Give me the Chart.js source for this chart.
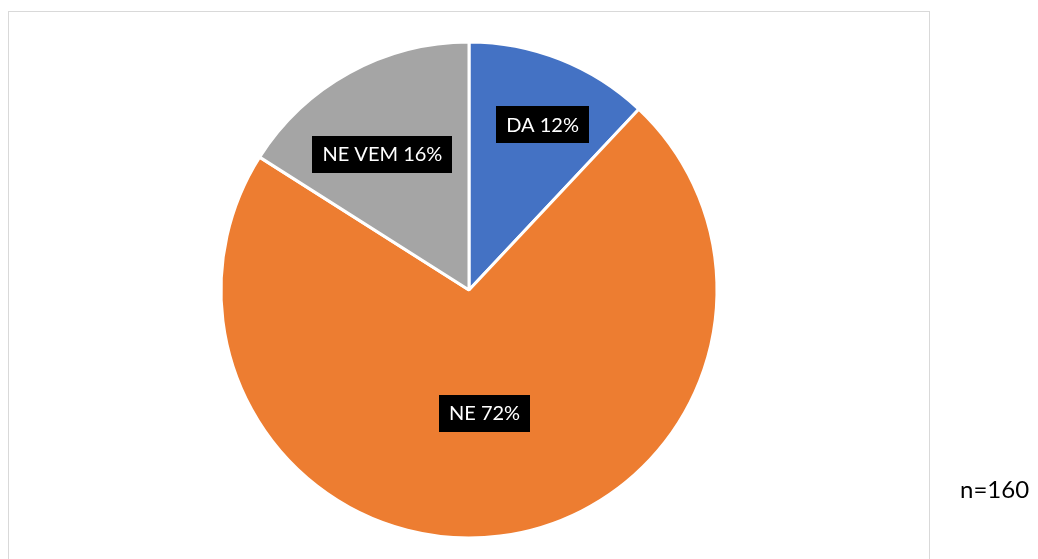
<!DOCTYPE html>
<html>
<head>
<meta charset="utf-8">
<script src="https://cdn.jsdelivr.net/npm/chart.js@4"></script>
<style>
  html, body { margin: 0; padding: 0; background: #ffffff; }
  #wrap { width: 1038px; height: 559px; position: relative; }
</style>
</head>
<body>
<div id="wrap"><canvas id="c" width="1038" height="559"></canvas></div>
<script>
const categories = ["DA", "NE", "NE VEM"];
const percentValues = [12, 72, 16];
const sliceColors = ["#4472C4", "#ED7D31", "#A5A5A5"];
const sampleNote = "n=160";

// label placement: fraction of radius and angle tweak (degrees) per slice
const labelPlacement = [
  { r: 0.73, da: 2.4 },
  { r: 0.50, da: 0 },
  { r: 0.65, da: -3.7 }
];

const FONT = "Lato, 'Open Sans', sans-serif";

const framePlugin = {
  id: 'frame',
  beforeDraw(chart) {
    const ctx = chart.ctx;
    ctx.save();
    ctx.strokeStyle = '#d9d9d9';
    ctx.lineWidth = 1;
    ctx.strokeRect(8.5, 11.5, 921, 600);
    ctx.fillStyle = '#000000';
    ctx.font = '24px ' + FONT;
    ctx.textBaseline = 'alphabetic';
    ctx.textAlign = 'left';
    ctx.fillText(sampleNote, 960, 498);
    ctx.restore();
  }
};

const labelPlugin = {
  id: 'boxLabels',
  afterDatasetsDraw(chart) {
    const ctx = chart.ctx;
    const meta = chart.getDatasetMeta(0);
    ctx.save();
    ctx.font = '20px ' + FONT;
    ctx.textAlign = 'center';
    ctx.textBaseline = 'middle';
    meta.data.forEach((arc, i) => {
      const p = arc.getProps(['x', 'y', 'startAngle', 'endAngle', 'outerRadius'], true);
      const pl = labelPlacement[i];
      const mid = (p.startAngle + p.endAngle) / 2 + pl.da * Math.PI / 180;
      const rr = p.outerRadius * pl.r;
      const cx = p.x + Math.cos(mid) * rr;
      const cy = p.y + Math.sin(mid) * rr;
      const text = categories[i] + ' ' + percentValues[i] + '%';
      const w = ctx.measureText(text).width + 20;
      const h = 37;
      ctx.fillStyle = '#000000';
      ctx.fillRect(Math.round(cx - w / 2), Math.round(cy - h / 2), Math.round(w), h);
      ctx.fillStyle = '#ffffff';
      ctx.fillText(text, cx, cy + 1);
    });
    ctx.restore();
  }
};

new Chart(document.getElementById('c'), {
  type: 'pie',
  data: {
    labels: categories,
    datasets: [{
      data: percentValues,
      backgroundColor: sliceColors,
      borderColor: '#ffffff',
      borderWidth: 3
    }]
  },
  options: {
    responsive: false,
    animation: false,
    layout: { padding: { top: 39.5, bottom: 18.5, left: 219.5, right: 319.5 } },
    plugins: {
      legend: { display: false },
      tooltip: { enabled: false },
      title: { display: false }
    }
  },
  plugins: [framePlugin, labelPlugin]
});
</script>
</body>
</html>
